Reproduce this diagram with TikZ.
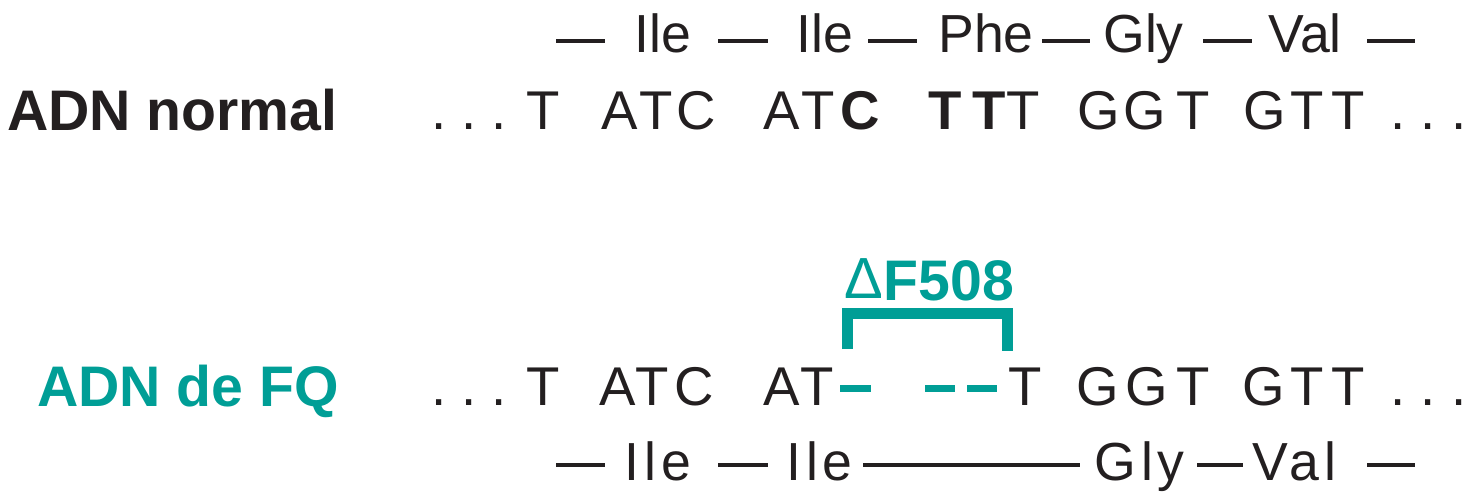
\documentclass[tikz,border=0pt]{standalone}
\usepackage{fontspec}
\setmainfont{Liberation Sans}
\definecolor{ink}{RGB}{35,31,32}
\definecolor{fq}{RGB}{0,158,150}
\begin{document}
\begin{tikzpicture}[x=0.5pt,y=-0.5pt,
  every node/.style={inner sep=0pt,outer sep=0pt,anchor=base,text=ink},
  seq/.style={font=\fontsize{27.3}{30}\selectfont},
  seqb/.style={font=\fontsize{27.3}{30}\selectfont\bfseries},
  aa/.style={font=\fontsize{26.8}{30}\selectfont},
  aas/.style={font=\fontsize{26.8}{30}\selectfont\addfontfeature{LetterSpace=9}},
  lab/.style={font=\fontsize{28.6}{30}\selectfont\bfseries,anchor=base west},
  link/.style={draw=ink,line width=1.6pt},
  del/.style={draw=fq,line width=3.4pt},
  bracket/.style={draw=fq,line width=5.3pt,miter limit=10}]
\useasboundingbox (0,0) rectangle (1470,502);

% labels
\node[lab] (lnormal) at (7,131) {ADN normal};
\node[lab,text=fq] (lfq) at (37,406) {ADN de FQ};

% row 1: amino acids (normal)
\node[aa] (a1) at (662.5,53) {Ile};
\node[aa] (a2) at (824.5,53) {Ile};
\node[aa] (a3) at (986,53) {Phe};
\node[aa] (a4) at (1143.5,53) {Gly};
\node[aa] (a5) at (1305,53) {Val};
\draw[link] (556,41) -- (605,41);
\draw[link] (718,41) -- (768,41);
\draw[link] (868,41) -- (917,41);
\draw[link] (1042,41) -- (1090,41);
\draw[link] (1203,41) -- (1252,41);
\draw[link] (1367,41) -- (1415,41);

% row 2: normal DNA
\foreach \x/\t [count=\i] in {439/., 469/., 499/., 543/T, 620/A, 656/T, 696/C, 782/A, 818/T,
  1023.5/T, 1099/G, 1145/G, 1193.5/T, 1265/G, 1307.5/T, 1348/T, 1398/., 1428.5/., 1459/.}
  \node[seq] (n\i) at (\x,130) {\t};
\node[seqb] (nb1) at (860,130) {C};
\node[seqb] (nb2) at (945,130) {T};
\node[seqb] (nb3) at (989,130) {T};

% deletion label and bracket
\node[font=\fontsize{29}{30}\selectfont,text=fq] (delta) at (864,298) {Δ};
\node[font=\fontsize{28.6}{30}\selectfont\bfseries,text=fq] (f508) at (949,300) {F508};
\draw[bracket] (847.5,349) -- (847.5,313.5) -- (1007.5,313.5) -- (1007.5,351);

% row 3: CF DNA
\foreach \x/\t [count=\i] in {439/., 469/., 499/., 543/T, 618/A, 652/T, 694.5/C, 782/A, 817/T,
  1025/T, 1098/G, 1147/G, 1193.5/T, 1263.5/G, 1307/T, 1348/T, 1398/., 1428.5/., 1459/.}
  \node[seq] (m\i) at (\x,405) {\t};
\draw[del] (840,388.5) -- (871,388.5);
\draw[del] (925,388.5) -- (955,388.5);
\draw[del] (967,388.5) -- (997,388.5);

% row 4: amino acids (CF)
\node[aas] (b1) at (658,480) {Ile};
\node[aas] (b2) at (819.5,480) {Ile};
\node[aas] (b3) at (1139.5,480) {Gly};
\node[aas] (b4) at (1294.5,480) {Val};
\draw[link] (556,465) -- (605,465);
\draw[link] (718,465) -- (768,465);
\draw[link] (863,465) -- (1080,465);
\draw[link] (1197,465) -- (1243,465);
\draw[link] (1367,465) -- (1415,465);
\end{tikzpicture}
\end{document}
